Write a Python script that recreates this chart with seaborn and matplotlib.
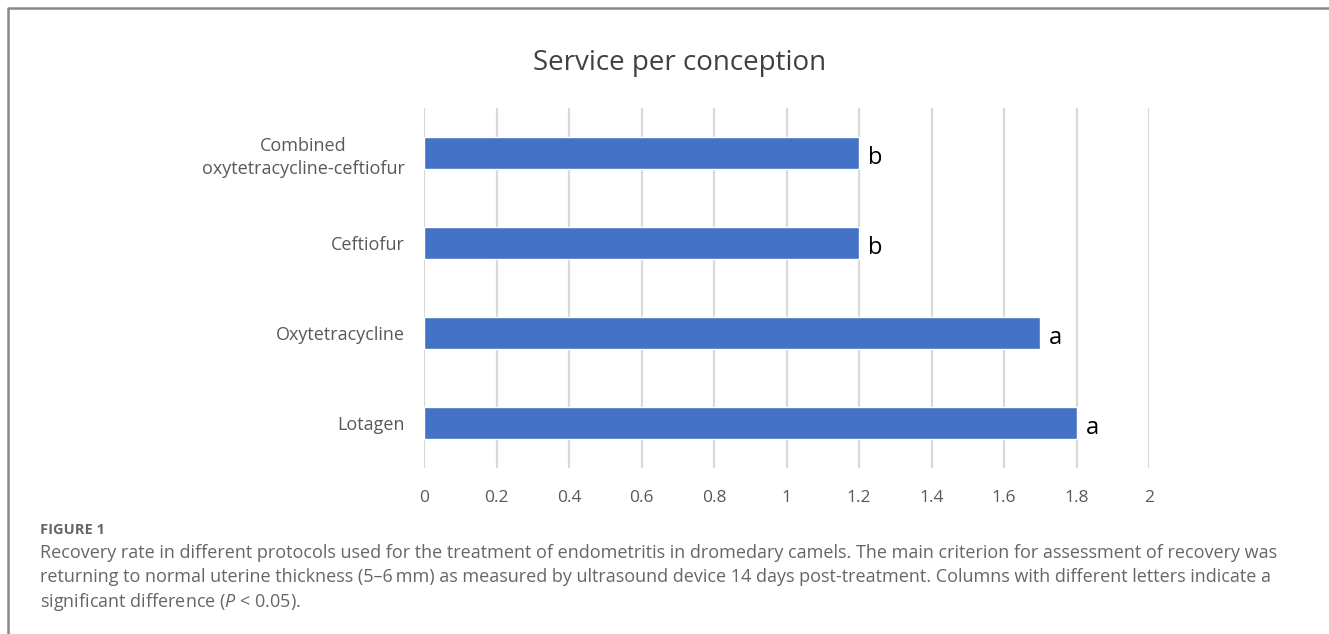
import matplotlib
matplotlib.use("Agg")
import matplotlib.pyplot as plt
from matplotlib.lines import Line2D
import seaborn as sns
import pandas as pd

categories = ["Combined\noxytetracycline-ceftiofur", "Ceftiofur", "Oxytetracycline", "Lotagen"]
values = [1.2, 1.2, 1.7, 1.8]
letters = ["b", "b", "a", "a"]
xticks = [0, 0.2, 0.4, 0.6, 0.8, 1, 1.2, 1.4, 1.6, 1.8, 2]
xtick_labels = ["0", "0.2", "0.4", "0.6", "0.8", "1", "1.2", "1.4", "1.6", "1.8", "2"]
title = "Service per conception"
caption_head = "FIGURE 1"
caption_lines = [
    "Recovery rate in different protocols used for the treatment of endometritis in dromedary camels. The main criterion for assessment of recovery was",
    "returning to normal uterine thickness (5\u20136\u2009mm) as measured by ultrasound device 14 days post-treatment. Columns with different letters indicate a",
    "significant difference ($P$ < 0.05).",
]

sns.set_theme(style="white")
plt.rcParams["font.family"] = ["Open Sans", "DejaVu Sans"]
plt.rcParams["mathtext.fontset"] = "custom"
plt.rcParams["mathtext.it"] = "Open Sans:italic"
plt.rcParams["mathtext.rm"] = "Open Sans"

df = pd.DataFrame({"cat": categories, "val": values})

fig = plt.figure(figsize=(13.29, 6.34), dpi=100)
ax = fig.add_axes([424 / 1329, 1 - 468 / 634, (1149 - 424) / 1329, (468 - 108) / 634])

sns.barplot(data=df, y="cat", x="val", orient="h", color="#4472C4", saturation=1,
            width=0.35, ax=ax, zorder=3)

ax.set_xlim(0, 2)
ax.set_ylim(3.5, -0.5)
ax.set_xticks(xticks)
ax.set_xticklabels(xtick_labels)
ax.xaxis.grid(True, color="#d9d9d9", linewidth=1.6, zorder=0)
ax.set_axisbelow(True)
for s in ax.spines.values():
    s.set_visible(False)
ax.tick_params(axis="x", length=0, pad=16, labelsize=12.5, labelcolor="#595959")
ax.tick_params(axis="y", length=0, pad=14, labelsize=13, labelcolor="#595959")
for lab in ax.get_yticklabels():
    lab.set_horizontalalignment("right")
    lab.set_multialignment("center")
    lab.set_linespacing(1.35)
ax.set_xlabel("")
ax.set_ylabel("")

for i, (v, l) in enumerate(zip(values, letters)):
    ax.text(v + 0.025, i + 0.05, l, va="center", ha="left", fontsize=17, color="black")

fig.text(680 / 1329, 1 - 63 / 634, title, ha="center", va="center", fontsize=20, color="#404040")

# border
fig.add_artist(Line2D([7.5 / 1329, 7.5 / 1329, 1.0], [0.0, 1 - 7.5 / 634, 1 - 7.5 / 634],
                      transform=fig.transFigure, color="#888888", linewidth=1.8))

fig.text(40 / 1329, 1 - 530 / 634, caption_head, ha="left", va="center", fontsize=10.5,
         fontweight="bold", color="#666666")
for k, line in enumerate(caption_lines):
    fig.text(40 / 1329, 1 - (553 + 24.5 * k) / 634, line, ha="left", va="center",
             fontsize=13, color="#666666")

fig.savefig("out.png", dpi=100)
